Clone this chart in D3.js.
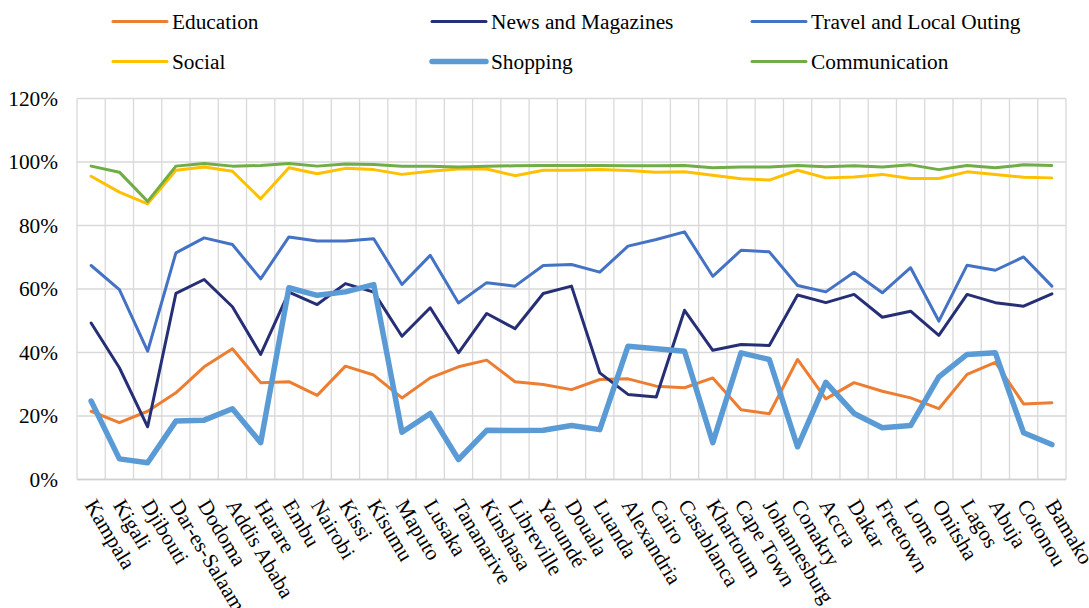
<!DOCTYPE html>
<html>
<head>
<meta charset="utf-8">
<script src="https://cdn.jsdelivr.net/npm/d3@7"></script>
<style>
  html, body { margin: 0; padding: 0; background: #ffffff; }
  svg { display: block; }
</style>
</head>
<body>
<svg id="chart" width="1089" height="608"></svg>
<script>
const cities = ["Kampala","Kigali","Djibouti","Dar-es-Salaam","Dodoma","Addis Ababa","Harare","Embu","Nairobi","Kissi","Kisumu","Maputo","Lusaka","Tananarive","Kinshasa","Libreville","Yaoundé","Douala","Luanda","Alexandria","Cairo","Casablanca","Khartoum","Cape Town","Johannesburg","Conakry","Accra","Dakar","Freetown","Lome","Onitsha","Lagos","Abuja","Cotonou","Bamako"];

const education = [21.5,17.9,21.5,27.3,35.5,41.2,30.5,30.8,26.5,35.7,32.9,25.7,32.0,35.5,37.6,30.8,29.9,28.3,31.5,31.7,29.4,28.9,32.0,22.0,20.7,37.8,25.4,30.5,27.8,25.7,22.3,33.1,36.9,23.8,24.2];
const news = [49.3,35.2,16.6,58.6,63.0,54.4,39.4,59.0,55.1,61.7,59.0,45.1,54.1,39.9,52.3,47.5,58.6,60.9,33.6,26.8,26.0,53.3,40.7,42.5,42.2,58.1,55.7,58.3,51.1,53.0,45.4,58.3,55.7,54.6,58.5];
const travel = [67.4,59.8,40.4,71.4,76.1,74.0,63.2,76.4,75.1,75.1,75.8,61.4,70.6,55.6,62.0,60.9,67.4,67.7,65.3,73.5,75.6,78.0,64.0,72.2,71.7,61.1,59.1,65.3,58.8,66.7,49.9,67.5,65.9,70.1,60.9];
const social = [95.5,90.5,86.8,97.4,98.4,97.1,88.4,98.2,96.3,98.0,97.6,96.1,97.1,97.8,97.8,95.7,97.4,97.4,97.6,97.3,96.8,96.9,95.8,94.7,94.3,97.4,95.0,95.3,96.1,94.8,94.8,96.9,96.1,95.2,95.0];
const shopping = [24.7,6.5,5.3,18.4,18.7,22.3,11.6,60.4,58.0,59.1,61.4,14.9,20.8,6.3,15.5,15.4,15.5,17.0,15.7,42.0,41.2,40.4,11.6,39.9,37.8,10.3,30.6,20.8,16.3,17.0,32.3,39.4,39.9,14.7,11.0];
const communication = [98.7,96.8,87.6,98.7,99.5,98.7,98.9,99.5,98.7,99.4,99.2,98.7,98.7,98.4,98.7,98.8,98.9,98.9,98.9,98.8,98.8,98.9,98.2,98.4,98.4,98.9,98.5,98.8,98.4,99.1,97.6,98.9,98.2,99.1,98.9];

const yTicks = [0,20,40,60,80,100,120];

const seriesNames = ["Education","News and Magazines","Travel and Local Outing","Social","Shopping","Communication"];
const seriesValues = [education, news, travel, social, shopping, communication];
const seriesColors = ["#ED7D31","#262F75","#4472C4","#FFC000","#5B9BD5","#70AD47"];
const seriesWidths = [3,3,3,3,5.5,3];

const series = seriesNames.map((n,i)=>({name:n, values:seriesValues[i], color:seriesColors[i], width:seriesWidths[i]}));

const FONT = "Liberation Serif";
const FS = "21.33px";

const svg = d3.select("#chart");
const pLeft = 77, pRight = 1066, pTop = 98.5, pBottom = 479.5;

const x = d3.scaleBand().domain(cities).range([pLeft, pRight]).padding(0);
const y = d3.scaleLinear().domain([0,120]).range([pBottom, pTop]);

// gridlines
const grid = svg.append("g");
grid.selectAll("line.h").data(yTicks).enter().append("line")
  .attr("x1", pLeft).attr("x2", pRight)
  .attr("y1", d=>y(d)).attr("y2", d=>y(d))
  .attr("stroke", "#d9d9d9").attr("stroke-width", 1.3);
const vb = cities.map(c=>x(c)).concat([pRight]);
grid.selectAll("line.v").data(vb).enter().append("line")
  .attr("x1", d=>d).attr("x2", d=>d)
  .attr("y1", pTop).attr("y2", pBottom)
  .attr("stroke", "#d9d9d9").attr("stroke-width", 1.3);

// y axis labels
const yAxis = d3.axisLeft(y).tickValues(yTicks).tickFormat(d=>d+"%").tickSize(0).tickPadding(0);
const yg = svg.append("g").attr("transform", `translate(58,0)`).call(yAxis);
yg.select(".domain").remove();
yg.selectAll("text").style("font-size", FS).style("font-family", FONT).attr("fill", "#000");

// x axis line
svg.append("line").attr("x1", pLeft).attr("x2", pRight).attr("y1", pBottom).attr("y2", pBottom)
  .attr("stroke", "#d0d0d0").attr("stroke-width", 1.6);

// category labels
svg.append("g").selectAll("text").data(cities).enter().append("text")
  .attr("transform", d=>`translate(${x(d)+x.bandwidth()/2-7},505) rotate(59)`)
  .style("font-size", FS).style("font-family", FONT)
  .attr("fill", "#000")
  .attr("text-anchor", "start")
  .text(d=>d);

// lines
const line = d3.line().x((d,i)=>x(cities[i])+x.bandwidth()/2).y(d=>y(d));
svg.append("g").selectAll("path").data(series).enter().append("path")
  .attr("d", d=>line(d.values))
  .attr("fill", "none")
  .attr("stroke", d=>d.color)
  .attr("stroke-width", d=>d.width)
  .attr("stroke-linejoin", "round")
  .attr("stroke-linecap", "round");

// legend
const legX = [113, 432, 752];
const legY = [21.5, 61.5];
const lg = svg.append("g");
series.forEach((s,i)=>{
  const cx = legX[i%3], cy = legY[Math.floor(i/3)];
  lg.append("line").attr("x1", cx).attr("x2", cx+54).attr("y1", cy).attr("y2", cy)
    .attr("stroke", s.color).attr("stroke-width", s.width).attr("stroke-linecap", "round");
  lg.append("text").attr("x", cx+59).attr("y", cy).attr("dy", "0.33em")
    .style("font-size", FS).style("font-family", FONT).attr("fill", "#000").text(s.name);
});
</script>
</body>
</html>
